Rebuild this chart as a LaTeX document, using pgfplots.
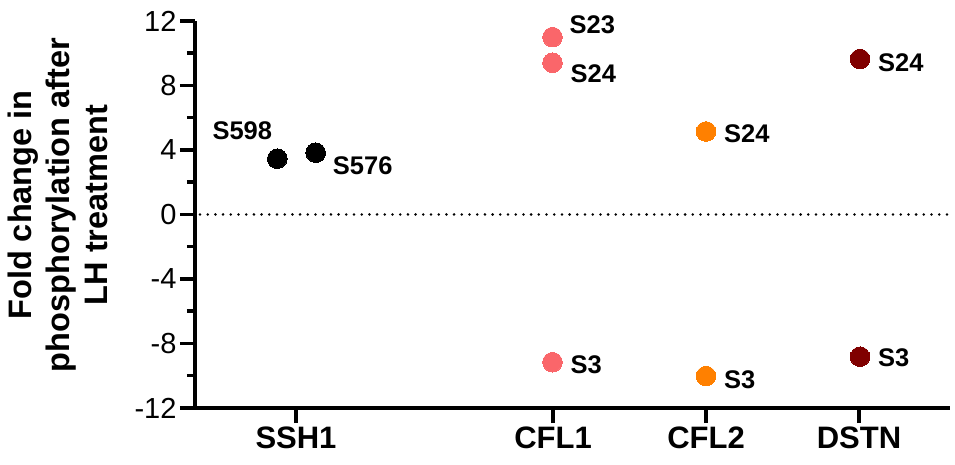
\documentclass[border=0pt]{standalone}
\usepackage{fontspec}
\setmainfont{Liberation Sans}
\usepackage{pgfplots}
\pgfplotsset{compat=1.18}

\definecolor{cflone}{RGB}{250,102,106}
\definecolor{cfltwo}{RGB}{255,128,0}
\definecolor{dstn}{RGB}{128,0,0}

\begin{document}
\begin{tikzpicture}
\begin{axis}[
  scale only axis, width=755pt, height=387pt,
  xmin=0, xmax=755, ymin=-12, ymax=12,
  axis lines*=left,
  axis line style={line width=3.5pt},
  tick style={black, line width=3.5pt},
  major tick style={line width=3.5pt},
  minor tick style={line width=3.5pt},
  tick align=outside,
  major tick length=15pt, minor tick length=8pt,
  ytick={-12,-8,...,12}, minor y tick num=1,
  xtick={101,358,511,664},
  xticklabels={SSH1,CFL1,CFL2,DSTN},
  xticklabel style={font=\fontsize{31}{36}\selectfont\bfseries},
  yticklabel style={font=\fontsize{29}{34}\selectfont},
  /pgf/number format/assume math mode=true,
  clip=false,
]
% zero line
\addplot[black, line width=2.8pt, line cap=round, dash pattern=on 0pt off 7.7pt] coordinates {(5,0) (755,0)};

% SSH1
\addplot[only marks, color=black, mark=*, mark size=9.8pt, mark options={line width=0pt}]
  coordinates {(82.3,3.46) (120.7,3.83)};
% CFL1
\addplot[only marks, color=cflone, mark=*, mark size=9.8pt, mark options={line width=0pt}]
  coordinates {(357.5,11.0) (357.5,9.41) (357.5,-9.16)};
% CFL2
\addplot[only marks, color=cfltwo, mark=*, mark size=9.8pt, mark options={line width=0pt}]
  coordinates {(511,5.15) (511,-10.02)};
% DSTN
\addplot[only marks, color=dstn, mark=*, mark size=9.8pt, mark options={line width=0pt}]
  coordinates {(665,9.64) (665,-8.82)};

\begin{scope}[every node/.style={font=\fontsize{25.5}{30}\selectfont\bfseries, inner sep=0pt}]
\node[anchor=base east] at ([xshift=-5pt,yshift=19pt]axis cs:82.3,3.46) {S598};
\node[anchor=base west] at ([xshift=17pt,yshift=-22pt]axis cs:120.7,3.83) {S576};
\node[anchor=base west] at ([xshift=17pt,yshift=4pt]axis cs:357.5,11.0) {S23};
\node[anchor=base west] at ([xshift=18pt,yshift=-20pt]axis cs:357.5,9.41) {S24};
\node[anchor=base west] at ([xshift=18pt,yshift=-11pt]axis cs:357.5,-9.16) {S3};
\node[anchor=base west] at ([xshift=18pt,yshift=-11pt]axis cs:511,5.15) {S24};
\node[anchor=base west] at ([xshift=18pt,yshift=-12pt]axis cs:511,-10.02) {S3};
\node[anchor=base west] at ([xshift=18pt,yshift=-12pt]axis cs:665,9.64) {S24};
\node[anchor=base west] at ([xshift=18pt,yshift=-10pt]axis cs:665,-8.82) {S3};
\end{scope}
\end{axis}
\node[rotate=90, align=center, font=\fontsize{32.5}{38}\selectfont\bfseries] at (-137pt,203pt)
  {Fold change in\\phosphorylation after\\LH treatment};
\pgfresetboundingbox
\path (-195pt,-57pt) rectangle (760pt,408pt);
\end{tikzpicture}
\end{document}
